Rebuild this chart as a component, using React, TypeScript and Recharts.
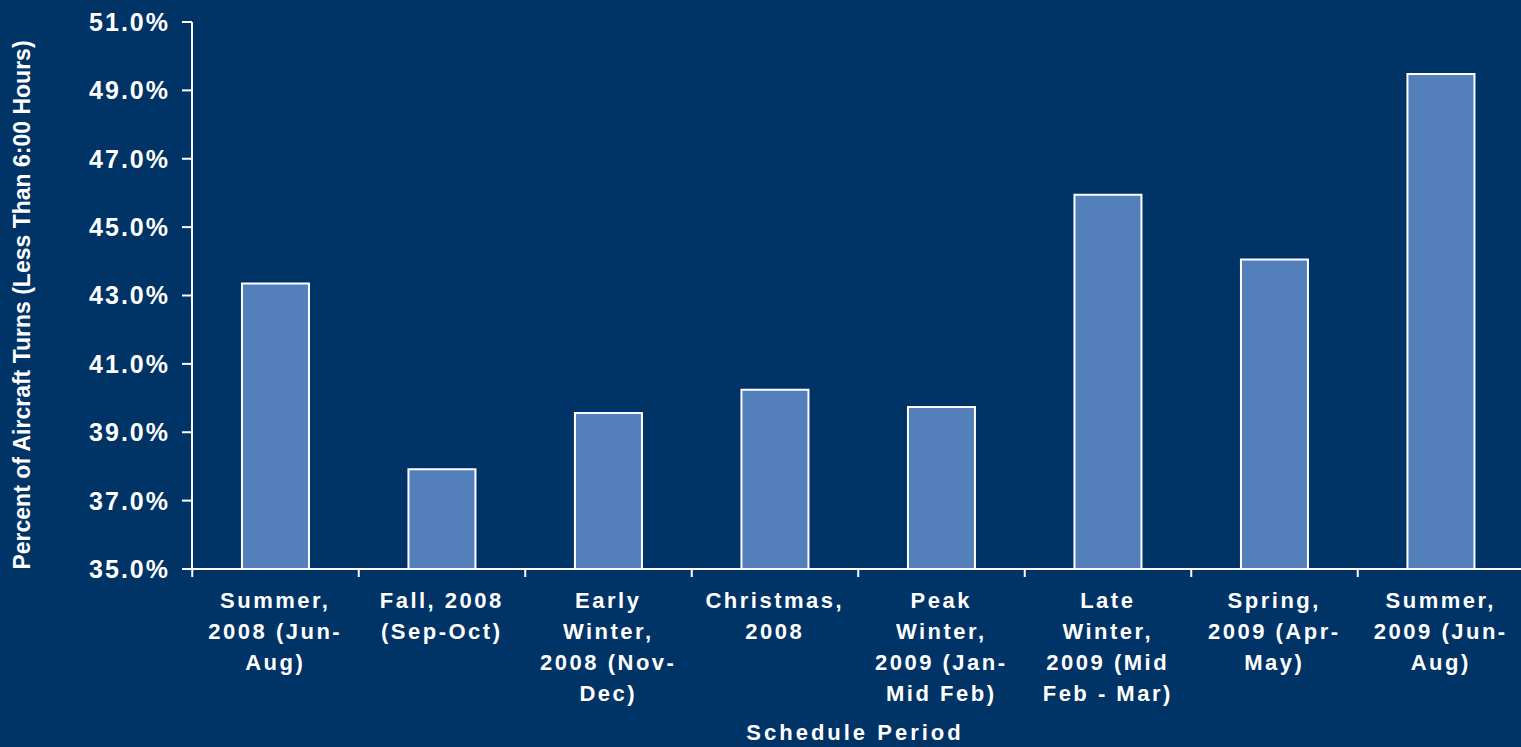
import React from 'react';
import { BarChart, Bar, XAxis, YAxis, Label } from 'recharts';

const periods = [
  'Summer,\n2008 (Jun-\nAug)',
  'Fall, 2008\n(Sep-Oct)',
  'Early\nWinter,\n2008 (Nov-\nDec)',
  'Christmas,\n2008',
  'Peak\nWinter,\n2009 (Jan-\nMid Feb)',
  'Late\nWinter,\n2009 (Mid\nFeb - Mar)',
  'Spring,\n2009 (Apr-\nMay)',
  'Summer,\n2009 (Jun-\nAug)',
];
const turnShare = [43.35, 37.92, 39.56, 40.24, 39.74, 45.95, 44.05, 49.48];
const yTicks = [35, 37, 39, 41, 43, 45, 47, 49, 51];

const data = periods.map((period, i) => ({ period, value: turnShare[i] }));

const BG = '#003366';
const BAR = '#537FBB';
const FONT = '"Liberation Sans", Arial, sans-serif';

// multi-line category labels, split on '\n'
function PeriodTick({ x, y, payload }: any) {
  const lines: string[] = String(payload.value).split('\n');
  return (
    <text
      x={x}
      y={y}
      textAnchor="middle"
      fill="#fff"
      fontFamily={FONT}
      fontWeight="bold"
      fontSize={22}
      letterSpacing={2.5}
    >
      {lines.map((line, i) => (
        <tspan key={i} x={x} dy={i === 0 ? 29 : 31}>
          {line}
        </tspan>
      ))}
    </text>
  );
}

function YTitle() {
  return (
    <text
      x={0}
      y={0}
      transform="translate(30, 305) rotate(-90)"
      textAnchor="middle"
      fill="#fff"
      fontFamily={FONT}
      fontWeight="bold"
      fontSize={23}
    >
      Percent of Aircraft Turns (Less Than 6:00 Hours)
    </text>
  );
}

function XTitle() {
  return (
    <text
      x={855}
      y={740}
      textAnchor="middle"
      fill="#fff"
      fontFamily={FONT}
      fontWeight="bold"
      fontSize={22}
      letterSpacing={3}
    >
      Schedule Period
    </text>
  );
}

export default function App() {
  return (
    <div style={{ position: 'absolute', left: 0, top: 0, width: 1521, height: 747, background: BG, overflow: 'hidden' }}>
      <BarChart
        width={1530}
        height={747}
        data={data}
        margin={{ top: 22, right: 6, left: 0, bottom: 0 }}
        barCategoryGap="30%"
      >
        <XAxis
          dataKey="period"
          height={178}
          interval={0}
          stroke="#fff"
          strokeWidth={2}
          tickSize={8}
          tick={<PeriodTick />}
          tickLine={{ stroke: '#fff', strokeWidth: 2, transform: 'translate(-83, 0)' }}
        >
          <Label content={<XTitle />} />
        </XAxis>
        <YAxis
          domain={[35, 51]}
          ticks={yTicks}
          width={192}
          stroke="#fff"
          strokeWidth={2}
          tickSize={10}
          tickMargin={12}
          tickFormatter={(v: number) => `${v.toFixed(1)}%`}
          tick={{ fill: '#fff', fontFamily: FONT, fontWeight: 'bold', fontSize: 25, letterSpacing: 2 }}
          allowDataOverflow
        >
          <Label content={<YTitle />} />
        </YAxis>
        <Bar dataKey="value" fill={BAR} stroke="#fff" strokeWidth={2} isAnimationActive={false} />
      </BarChart>
    </div>
  );
}
